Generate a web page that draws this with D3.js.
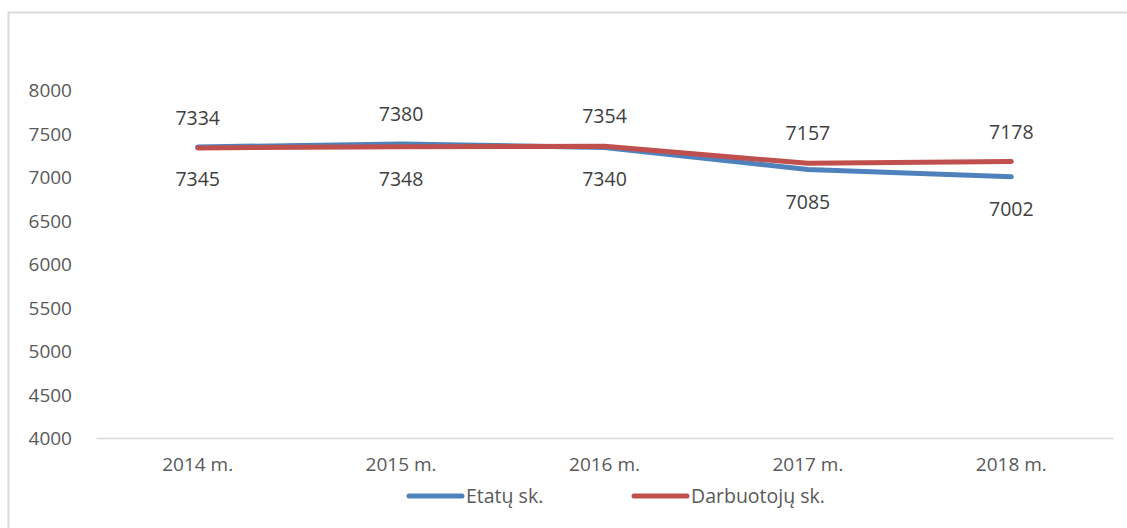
<!DOCTYPE html>
<html>
<head>
<meta charset="utf-8">
<script src="https://cdn.jsdelivr.net/npm/d3@7"></script>
<style>
  body { margin: 0; background: #fff; }
  text { font-family: "Open Sans", "DejaVu Sans", sans-serif; }
  .tick text { fill: #595959; font-size: 19px; }
  .lbl { fill: #404040; font-size: 19.5px; }
  .leg { fill: #595959; font-size: 19.5px; }
</style>
</head>
<body>
<div id="chart"></div>
<script>
const years = ['2014 m.', '2015 m.', '2016 m.', '2017 m.', '2018 m.'];
const etatai = [7345, 7380, 7340, 7085, 7002];
const darbuotojai = [7334, 7348, 7354, 7157, 7178];
const yTicks = [4000, 4500, 5000, 5500, 6000, 6500, 7000, 7500, 8000];
// which side the data label sits on, as in the original
const etataiSide = ['below', 'above', 'below', 'below', 'below'];
const darbSide = ['above', 'below', 'above', 'above', 'above'];

const W = 1127, H = 528;
const margin = { top: 90, right: 14, bottom: 90, left: 96 };
const width = W - margin.left - margin.right,
      height = H - margin.top - margin.bottom;

const svg = d3.select('#chart').append('svg')
  .attr('width', W)
  .attr('height', H);

// outer chart border
svg.append('rect')
  .attr('x', 8.5).attr('y', 12.5)
  .attr('width', W).attr('height', H)
  .attr('fill', 'none')
  .attr('stroke', '#d9d9d9')
  .attr('stroke-width', 2);

const g = svg.append('g')
  .attr('transform', 'translate(' + margin.left + ',' + margin.top + ')');

const x = d3.scaleBand().domain(years).range([0, width]);
const y = d3.scaleLinear().domain([4000, 8000]).range([height, 0]);

const yAxis = g.append('g')
  .call(d3.axisLeft(y).tickValues(yTicks).tickFormat(d3.format('d'))
    .tickSize(0).tickPadding(24));
yAxis.select('.domain').remove();
yAxis.selectAll('.tick text').attr('dy', '0.36em');

const xAxis = g.append('g')
  .attr('transform', 'translate(0,' + height + ')')
  .call(d3.axisBottom(x).tickSize(0).tickPadding(20));
xAxis.select('.domain').attr('stroke', '#d9d9d9').attr('stroke-width', 1.5);

const series = [
  { name: 'Etatų sk.', values: etatai, color: '#4f81bd', side: etataiSide },
  { name: 'Darbuotojų sk.', values: darbuotojai, color: '#c0504d', side: darbSide }
];

const line = d3.line()
  .x((d, i) => x(years[i]) + x.bandwidth() / 2)
  .y(d => y(d));

series.forEach(s => {
  g.append('path')
    .datum(s.values)
    .attr('d', line)
    .attr('fill', 'none')
    .attr('stroke', s.color)
    .attr('stroke-width', 5)
    .attr('stroke-linecap', 'round')
    .attr('stroke-linejoin', 'round');
});

series.forEach(s => {
  g.selectAll(null)
    .data(s.values)
    .enter().append('text')
    .attr('class', 'lbl')
    .attr('text-anchor', 'middle')
    .attr('dy', '0.36em')
    .attr('x', (d, i) => x(years[i]) + x.bandwidth() / 2)
    .attr('y', (d, i) => y(d) + (s.side[i] === 'above' ? -30 : 32))
    .text(d => d);
});

// legend
const legend = svg.append('g').attr('transform', 'translate(407,496)');
const legX = [0, 225];
series.forEach((s, i) => {
  const item = legend.append('g').attr('transform', 'translate(' + legX[i] + ',0)');
  item.append('line')
    .attr('x1', 2).attr('x2', 55)
    .attr('stroke', s.color)
    .attr('stroke-width', 5)
    .attr('stroke-linecap', 'round');
  item.append('text')
    .attr('class', 'leg')
    .attr('x', 59).attr('y', 7)
    .text(s.name);
});
</script>
</body>
</html>
